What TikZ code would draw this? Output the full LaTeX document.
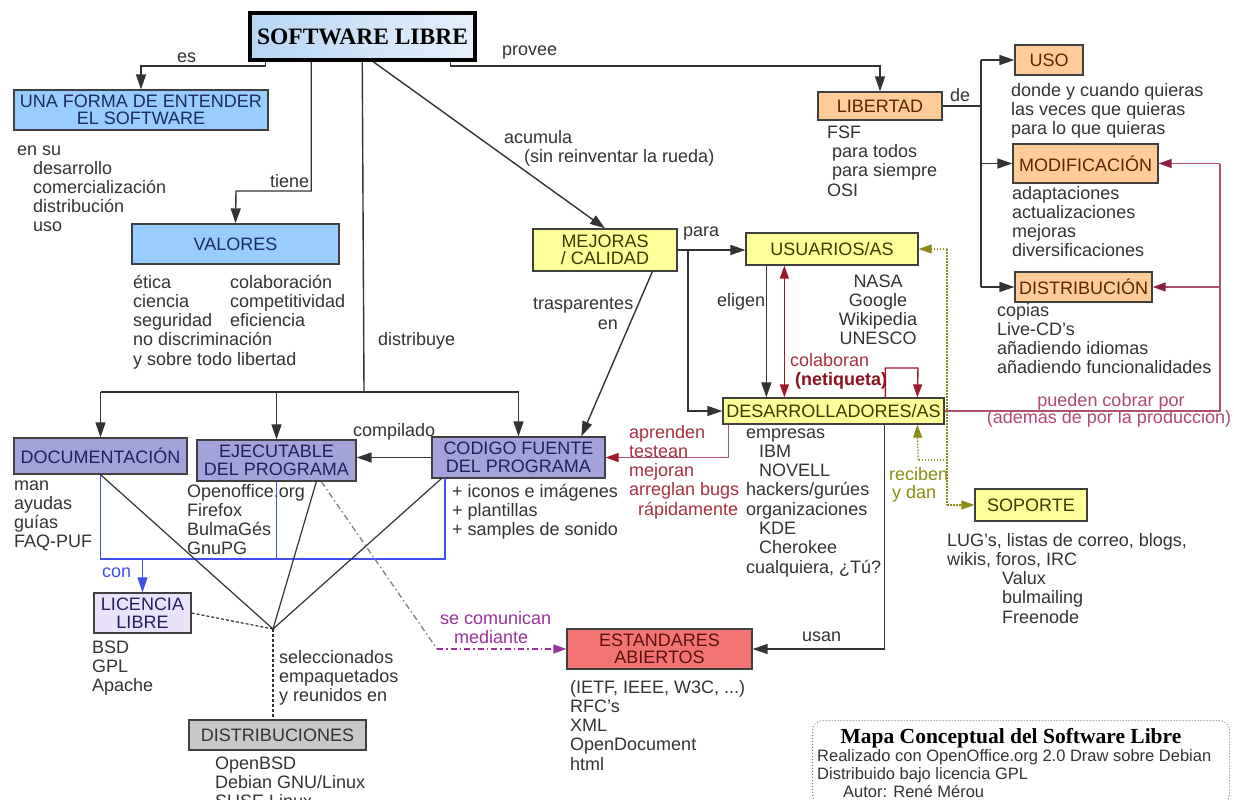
\documentclass[tikz,border=0pt]{standalone}
\usepackage{fontspec}
\setmainfont{Liberation Sans}
\newfontfamily\serifb{Liberation Serif}
\usetikzlibrary{arrows.meta,calc}
\definecolor{tx}{HTML}{333333}
\definecolor{ln}{HTML}{333333}
\definecolor{bd}{HTML}{404040}
\definecolor{tiA}{HTML}{B8D6F6}
\definecolor{tiB}{HTML}{E6F0FB}
\definecolor{bluef}{HTML}{99CCFF}
\definecolor{lavf}{HTML}{A3A3D9}
\definecolor{licf}{HTML}{EAE2F8}
\definecolor{orf}{HTML}{FFCC99}
\definecolor{yelf}{HTML}{FFFF99}
\definecolor{redf}{HTML}{F47474}
\definecolor{grayf}{HTML}{C8C8C8}
\definecolor{pinkl}{HTML}{B0506E}
\definecolor{pinkh}{HTML}{8E2048}
\definecolor{pinkt}{HTML}{B04878}
\definecolor{redl}{HTML}{A01828}
\definecolor{redt}{HTML}{A83040}
\definecolor{redk}{HTML}{8B1020}
\definecolor{oliv}{HTML}{8C8C14}
\definecolor{purp}{HTML}{993399}
\definecolor{bluel}{HTML}{4050F0}
\definecolor{navy}{HTML}{1C2C5C}
\definecolor{lavt}{HTML}{202060}
\definecolor{brn}{HTML}{5A2400}
\definecolor{olt}{HTML}{3A3A00}
\definecolor{redbt}{HTML}{5A1010}
\newcommand\fs{\fontsize{18}{19.3}\selectfont}
\newcommand\fsbox{\fontsize{18}{17.5}\selectfont}
\newcommand\fscred{\fontsize{16.5}{18}\selectfont}
\tikzset{
  box/.style={draw=bd, line width=1.3pt, inner sep=0pt, align=center, font=\fsbox},
  txt/.style={anchor=base west, inner sep=0pt, align=left, text=tx, font=\fs},
  conn/.style={draw=ln, line width=1.4pt},
  arr/.style={conn, -{Triangle[length=15pt,width=10pt]}},
  pinkconn/.style={draw=pinkl, line width=1.4pt},
  pinkarr/.style={pinkconn, -{Triangle[length=13pt,width=9pt,color=pinkh]}},
  redarr/.style={draw=redl, line width=1.4pt, {Triangle[length=13pt,width=9pt]}-{Triangle[length=13pt,width=9pt]}},
  loopr/.style={draw=redl, line width=1.4pt, -{Triangle[length=13pt,width=9pt]}},
  olconn/.style={draw=oliv, line width=1.2pt, dash pattern=on 1.5pt off 1.5pt},
  olarr/.style={olconn, -{Triangle[length=13pt,width=9pt]}},
  blconn/.style={draw=bluel, line width=1.2pt},
  blarr/.style={blconn, -{Triangle[length=15pt,width=10pt]}},
  dconn/.style={draw=ln, line width=1.2pt, dash pattern=on 3pt off 2pt},
  ddgray/.style={draw=gray, line width=1.3pt, dash pattern=on 6pt off 3pt on 1.5pt off 3pt},
  ddpurp/.style={draw=purp, line width=1.3pt, dash pattern=on 6pt off 3pt on 1.5pt off 3pt, -{Triangle[length=13pt,width=9pt]}}
}
\begin{document}
\begin{tikzpicture}[x=1pt,y=-1pt]
\useasboundingbox (0,0) rectangle (1234,800);
\fill[white] (0,0) rectangle (1234,800);

% ---------- boxes ----------
\node[box, draw=black, line width=3.5pt, left color=tiA, right color=tiB, minimum width=225pt, minimum height=47pt, font=\serifb\bfseries\fontsize{23.5}{24}\selectfont, text=black] (title) at (362.5,36.5) {SOFTWARE LIBRE};
\node[box, fill=bluef, text=navy, minimum width=254pt, minimum height=40pt] (forma) at (141,110) {UNA FORMA DE ENTENDER\\EL SOFTWARE};
\node[box, fill=bluef, text=navy, minimum width=207pt, minimum height=40pt] (valores) at (235.5,244) {VALORES};
\node[box, fill=orf, text=brn, minimum width=124pt, minimum height=28pt] (libertad) at (880,106) {LIBERTAD};
\node[box, fill=orf, text=brn, minimum width=68pt, minimum height=30pt] (uso) at (1049,60) {USO};
\node[box, fill=orf, text=brn, minimum width=145pt, minimum height=39pt] (modif) at (1085.5,163.5) {MODIFICACIÓN};
\node[box, fill=orf, text=brn, minimum width=137pt, minimum height=30pt] (distrib) at (1083.5,287) {DISTRIBUCIÓN};
\node[box, fill=yelf, text=olt, minimum width=144pt, minimum height=42pt] (mejoras) at (605,250) {MEJORAS\\/ CALIDAD};
\node[box, fill=yelf, text=olt, minimum width=172pt, minimum height=32pt] (usuarios) at (832,249) {USUARIOS/AS};
\node[box, fill=yelf, text=olt, minimum width=221pt, minimum height=26pt] (desarr) at (833.5,411) {DESARROLLADORES/AS};
\node[box, fill=yelf, text=olt, minimum width=112pt, minimum height=32pt] (soporte) at (1031,505) {SOPORTE};
\node[box, fill=redf, text=redbt, minimum width=185pt, minimum height=40pt] (estand) at (659.5,649) {ESTANDARES\\ABIERTOS};
\node[box, fill=lavf, text=lavt, minimum width=173pt, minimum height=36pt] (doc) at (100.5,456) {DOCUMENTACIÓN};
\node[box, fill=lavf, text=lavt, minimum width=159pt, minimum height=41pt] (ejec) at (276.5,460.5) {EJECUTABLE\\DEL PROGRAMA};
\node[box, fill=lavf, text=lavt, minimum width=173pt, minimum height=41pt] (codigo) at (518.5,457.5) {CODIGO FUENTE\\DEL PROGRAMA};
\node[box, fill=licf, text=lavt, minimum width=97pt, minimum height=40pt] (licencia) at (142.5,613) {LICENCIA\\LIBRE};
\node[box, fill=grayf, text=tx, minimum width=177pt, minimum height=30pt] (distros) at (277.5,735) {DISTRIBUCIONES};

% ---------- notes (position = baseline of the LAST line) ----------
\node[txt] (n1) at (17,155) {en su};
\node[txt] (n2) at (33,231.9) {desarrollo\\comercialización\\distribución\\uso};
\node[txt] (n3) at (133,365.2) {ética\\ciencia\\seguridad\\no discriminación\\y sobre todo libertad};
\node[txt] (n4) at (230,326.6) {colaboración\\competitividad\\eficiencia};
\node[txt] (n5) at (827,138) {FSF};
\node[txt] (n6) at (832,176.6) {para todos\\para siempre};
\node[txt] (n7) at (827,196) {OSI};
\node[txt] (n8) at (1011,134.6) {donde y cuando quieras\\las veces que quieras\\para lo que quieras};
\node[txt] (n9) at (1012,256.9) {adaptaciones\\actualizaciones\\mejoras\\diversificaciones};
\node[txt] (n10) at (997,373.9) {copias\\Live-CD's\\añadiendo idiomas\\añadiendo funcionalidades};
\node[txt, anchor=base, align=center] (n11) at (878,344.9) {NASA\\Google\\Wikipedia\\UNESCO};
\node[txt] (n12) at (746,438) {empresas};
\node[txt] (n13) at (759,476.6) {IBM\\NOVELL};
\node[txt] (n14) at (746,515.2) {hackers/gurúes\\organizaciones};
\node[txt] (n15) at (759,553.8) {KDE\\Cherokee};
\node[txt] (n16) at (746,573.1) {cualquiera, ¿Tú?};
\node[txt, text=redt] (n17) at (629,495.9) {aprenden\\testean\\mejoran\\arreglan bugs};
\node[txt, text=redt] (n18) at (638,515.2) {rápidamente};
\node[txt] (n19) at (452,535.6) {+ iconos e imágenes\\+ plantillas\\+ samples de sonido};
\node[txt] (n20) at (187,554.9) {Openoffice.org\\Firefox\\BulmaGés\\GnuPG};
\node[txt] (n21) at (14,547.9) {man\\ayudas\\guías\\FAQ-PUF};
\node[txt] (n22) at (92,691.6) {BSD\\GPL\\Apache};
\node[txt] (n23) at (279,701.6) {seleccionados\\empaquetados\\y reunidos en};
\node[txt] (n24) at (215,807.6) {OpenBSD\\Debian GNU/Linux\\SUSE Linux};
\node[txt] (n25) at (570,770.2) {(IETF, IEEE, W3C, ...)\\RFC's\\XML\\OpenDocument\\html};
\node[txt] (n26) at (947,565.3) {LUG's, listas de correo, blogs,\\wikis, foros, IRC};
\node[txt] (n27) at (1002,623.2) {Valux\\bulmailing\\Freenode};

% ---------- connector labels ----------
\node[txt] (l1) at (177,63) {es};
\node[txt] (l2) at (270,187) {tiene};
\node[txt] (l3) at (502,56) {provee};
\node[txt] (l4) at (504,143) {acumula};
\node[txt] (l5) at (524,162) {(sin reinventar la rueda)};
\node[txt] (l6) at (378,345) {distribuye};
\node[txt] (l7) at (683,236) {para};
\node[txt] (l8) at (717,306) {eligen};
\node[txt, text=redt] (l9) at (790,366) {colaboran};
\node[txt, text=redk, font=\fs\bfseries] (l10) at (795,385) {(netiqueta)};
\node[txt] (l11) at (533,309) {trasparentes};
\node[txt, anchor=base east] (l12) at (618,329) {en};
\node[txt] (l13) at (353,436) {compilado};
\node[txt, text=bluel] (l14) at (102,577) {con};
\node[txt, text=purp] (l15) at (440,624) {se comunican};
\node[txt, text=purp] (l16) at (454,643) {mediante};
\node[txt] (l17) at (802,641) {usan};
\node[txt, text=oliv] (l18) at (889,480) {reciben};
\node[txt, text=oliv] (l19) at (892,498) {y dan};
\node[txt, anchor=base, text=pinkt] (l20) at (1111,406) {pueden cobrar por};
\node[txt, anchor=base, text=pinkt] (l21) at (1109,423) {(además de por la producción)};
\node[txt] (l22) at (950,101) {de};

% ---------- connectors ----------
\draw[arr] ($(title.south west)+(17,0)$) |- (141,66) -- (forma.north);
\draw[arr] ($(title.south west)+(63,0)$) |- (236,191) -- (valores.north);
\coordinate (dj) at (364,392);
\draw[conn] ($(title.south west)+(114,0)$) -- (dj);
\draw[conn] (100.5,392) -- (518.5,392);
\draw[arr] (100.5,392) -- (doc.north);
\draw[arr] (276.5,392) -- (ejec.north);
\draw[arr] (518.5,392) -- (codigo.north);
\draw[arr] ($(title.south west)+(125,0)$) -- (mejoras.north);
\draw[arr] ($(title.south east)+(-26,0)$) |- (880,66) -- (libertad.north);
\coordinate (lj) at (981,106);
\draw[conn] (libertad.east) -- (lj);
\draw[conn] (981,60) -- (981,287);
\draw[arr] (981,60) -- (uso.west);
\draw[arr] (981,163.5) -- (modif.west);
\draw[arr] (981,287) -- (distrib.west);
\draw[arr] (mejoras.east) -- (mejoras.east -| usuarios.west);
\draw[arr] (688,250) |- (desarr.west);
\draw[arr] ($(usuarios.south west)+(21,0)$) -- ($(desarr.north west)+(44,0)$);
\draw[redarr] ($(usuarios.south west)+(39,0)$) -- ($(desarr.north west)+(62,0)$);
\draw[loopr] ($(desarr.north west)+(163,0)$) |- (918,368) -- ($(desarr.north west)+(195,0)$);
\draw[pinkconn, -{Triangle[length=13pt,width=9pt,color=redl]}] ($(desarr.south west)+(6,0)$) |- (codigo.east);
\draw[arr] ($(desarr.south west)+(162,0)$) |- (estand.east);
\coordinate (pj) at (1220,411);
\draw[pinkconn] (desarr.east) -- (pj) -- (1220,163.5);
\draw[pinkarr] (1220,163.5) -- (modif.east);
\draw[pinkarr] (1220,287) -- (distrib.east);
\coordinate (oa) at (947,249);
\coordinate (ob) at (947,505);
\coordinate (oc) at (947,460);
\draw[olarr] (oa) -- (usuarios.east);
\draw[olconn] (oa) -- (ob);
\draw[olarr] (ob) -- (soporte.west);
\draw[olconn] (oc) -- (918,460);
\draw[olarr] (918,460) -- ($(desarr.south west)+(195,0)$);
\draw[blconn] (doc.south) -- (100.5,559) -- (445,559) -- (445,478);
\draw[blconn] (ejec.south) -- (276.5,559);
\draw[blarr] (142.5,559) -- (licencia.north);
\coordinate (J) at (273,629);
\draw[conn, line width=1.2pt] (doc.south) -- (J);
\draw[conn, line width=1.2pt] ($(ejec.south west)+(120,0)$) -- (J);
\draw[conn, line width=1.2pt] ($(codigo.south west)+(10,0)$) -- (J);
\draw[dconn] (licencia.east) -- (J);
\draw[dconn] (J) -- (J |- distros.north);
\draw[ddgray] ($(ejec.south west)+(125,0)$) -- (437,649);
\draw[ddpurp] (437,649) -- (estand.west);
\draw[arr] (codigo.west) -- (codigo.west -| ejec.east);
\draw[arr] ($(mejoras.south west)+(120,0)$) -- ($(codigo.north west)+(150,0)$);

% ---------- credits ----------
\node[draw=gray, line width=1pt, dotted, rounded corners=10pt, minimum width=417pt, minimum height=84pt, anchor=north west, inner sep=0pt] (credits) at (812,720) {};
\node[anchor=base, inner sep=0pt, text=black, font=\serifb\bfseries\fontsize{21.5}{22}\selectfont] (c1) at (1011,743) {Mapa Conceptual del Software Libre};
\node[anchor=base west, inner sep=0pt, align=left, text=tx, font=\fscred] (c2) at (817,779) {Realizado con OpenOffice.org 2.0 Draw sobre Debian\\Distribuido bajo licencia GPL};
\node[anchor=base west, inner sep=0pt, text=tx, font=\fscred] (c3) at (843,797) {Autor: René Mérou};
\end{tikzpicture}
\end{document}
